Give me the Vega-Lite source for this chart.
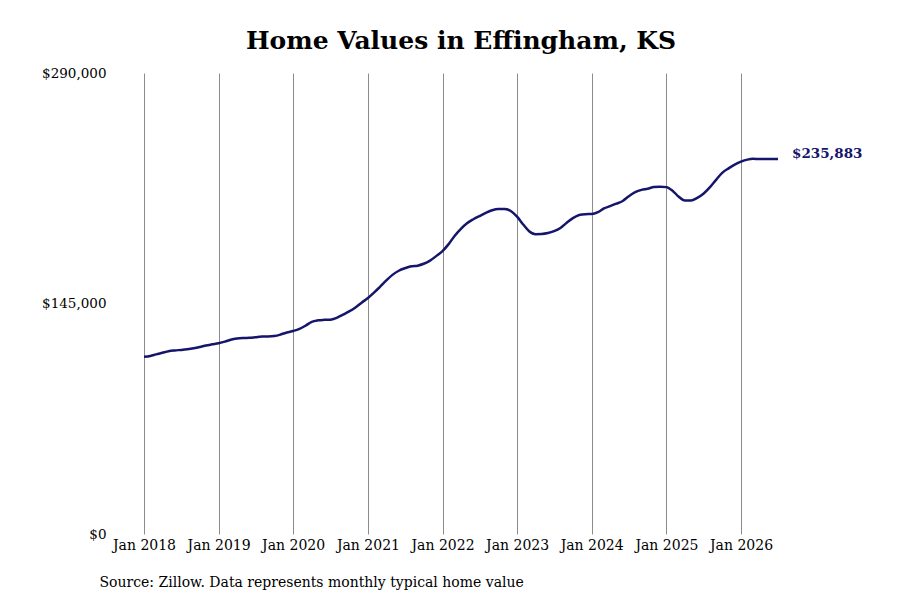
{
  "$schema": "https://vega.github.io/schema/vega-lite/v6.json",
  "width": 634,
  "height": 461,
  "autosize": "none",
  "padding": {"left": 144, "top": 73, "right": 122, "bottom": 66},
  "background": "white",
  "config": {
    "view": {"stroke": null},
    "font": "DejaVu Serif"
  },
  "title": {
    "text": "Home Values in Effingham, KS",
    "font": "DejaVu Serif",
    "fontSize": 25,
    "fontWeight": "bold",
    "color": "#000000",
    "anchor": "middle",
    "offset": 12
  },
  "data": {
    "values": [
      {"date": "2018-01-01", "value": 111500},
      {"date": "2018-02-01", "value": 112000},
      {"date": "2018-03-01", "value": 113000},
      {"date": "2018-04-01", "value": 114000},
      {"date": "2018-05-01", "value": 115000},
      {"date": "2018-06-01", "value": 115500},
      {"date": "2018-07-01", "value": 115800},
      {"date": "2018-08-01", "value": 116200},
      {"date": "2018-09-01", "value": 116800},
      {"date": "2018-10-01", "value": 117600},
      {"date": "2018-11-01", "value": 118600},
      {"date": "2018-12-01", "value": 119300},
      {"date": "2019-01-01", "value": 120000},
      {"date": "2019-02-01", "value": 121000},
      {"date": "2019-03-01", "value": 122200},
      {"date": "2019-04-01", "value": 123000},
      {"date": "2019-05-01", "value": 123300},
      {"date": "2019-06-01", "value": 123400},
      {"date": "2019-07-01", "value": 123800},
      {"date": "2019-08-01", "value": 124200},
      {"date": "2019-09-01", "value": 124200},
      {"date": "2019-10-01", "value": 124500},
      {"date": "2019-11-01", "value": 125500},
      {"date": "2019-12-01", "value": 126800},
      {"date": "2020-01-01", "value": 127700},
      {"date": "2020-02-01", "value": 129000},
      {"date": "2020-03-01", "value": 131000},
      {"date": "2020-04-01", "value": 133500},
      {"date": "2020-05-01", "value": 134400},
      {"date": "2020-06-01", "value": 134700},
      {"date": "2020-07-01", "value": 134800},
      {"date": "2020-08-01", "value": 136000},
      {"date": "2020-09-01", "value": 138000},
      {"date": "2020-10-01", "value": 140000},
      {"date": "2020-11-01", "value": 142500},
      {"date": "2020-12-01", "value": 145500},
      {"date": "2021-01-01", "value": 148500},
      {"date": "2021-02-01", "value": 152000},
      {"date": "2021-03-01", "value": 155500},
      {"date": "2021-04-01", "value": 159500},
      {"date": "2021-05-01", "value": 163000},
      {"date": "2021-06-01", "value": 165600},
      {"date": "2021-07-01", "value": 167200},
      {"date": "2021-08-01", "value": 168400},
      {"date": "2021-09-01", "value": 168800},
      {"date": "2021-10-01", "value": 170000},
      {"date": "2021-11-01", "value": 172000},
      {"date": "2021-12-01", "value": 174800},
      {"date": "2022-01-01", "value": 178000},
      {"date": "2022-02-01", "value": 182500},
      {"date": "2022-03-01", "value": 187500},
      {"date": "2022-04-01", "value": 192000},
      {"date": "2022-05-01", "value": 195500},
      {"date": "2022-06-01", "value": 198000},
      {"date": "2022-07-01", "value": 200000},
      {"date": "2022-08-01", "value": 202000},
      {"date": "2022-09-01", "value": 203700},
      {"date": "2022-10-01", "value": 204500},
      {"date": "2022-11-01", "value": 204500},
      {"date": "2022-12-01", "value": 203200},
      {"date": "2023-01-01", "value": 199600},
      {"date": "2023-02-01", "value": 194500},
      {"date": "2023-03-01", "value": 190500},
      {"date": "2023-04-01", "value": 188600},
      {"date": "2023-05-01", "value": 188700},
      {"date": "2023-06-01", "value": 189300},
      {"date": "2023-07-01", "value": 190500},
      {"date": "2023-08-01", "value": 192500},
      {"date": "2023-09-01", "value": 195800},
      {"date": "2023-10-01", "value": 198700},
      {"date": "2023-11-01", "value": 200700},
      {"date": "2023-12-01", "value": 201200},
      {"date": "2024-01-01", "value": 201300},
      {"date": "2024-02-01", "value": 202500},
      {"date": "2024-03-01", "value": 204800},
      {"date": "2024-04-01", "value": 206300},
      {"date": "2024-05-01", "value": 207800},
      {"date": "2024-06-01", "value": 209500},
      {"date": "2024-07-01", "value": 212500},
      {"date": "2024-08-01", "value": 215000},
      {"date": "2024-09-01", "value": 216500},
      {"date": "2024-10-01", "value": 217200},
      {"date": "2024-11-01", "value": 218300},
      {"date": "2024-12-01", "value": 218500},
      {"date": "2025-01-01", "value": 218200},
      {"date": "2025-02-01", "value": 215800},
      {"date": "2025-03-01", "value": 212300},
      {"date": "2025-04-01", "value": 209800},
      {"date": "2025-05-01", "value": 209800},
      {"date": "2025-06-01", "value": 211500},
      {"date": "2025-07-01", "value": 214000},
      {"date": "2025-08-01", "value": 218000},
      {"date": "2025-09-01", "value": 222800},
      {"date": "2025-10-01", "value": 227200},
      {"date": "2025-11-01", "value": 230000},
      {"date": "2025-12-01", "value": 232300},
      {"date": "2026-01-01", "value": 234200},
      {"date": "2026-02-01", "value": 235500},
      {"date": "2026-03-01", "value": 236000},
      {"date": "2026-04-01", "value": 235900},
      {"date": "2026-05-01", "value": 235900},
      {"date": "2026-06-01", "value": 235900},
      {"date": "2026-07-01", "value": 235883}
    ]
  },
  "encoding": {
    "x": {
      "field": "date",
      "type": "temporal",
      "scale": {
        "domain": [{"year": 2018, "month": 1, "date": 1}, {"year": 2026, "month": 7, "date": 1}],
        "nice": false
      },
      "axis": {
        "title": "Source: Zillow. Data represents monthly typical home value",
        "titleFont": "DejaVu Serif",
        "titleFontSize": 14,
        "titleFontWeight": "normal",
        "titleColor": "#000000",
        "titleAnchor": "start",
        "titleAlign": "left",
        "titleBaseline": "middle",
        "titleX": -45,
        "titleY": 48,
        "values": [
          {"year": 2018, "month": 1, "date": 1},
          {"year": 2019, "month": 1, "date": 1},
          {"year": 2020, "month": 1, "date": 1},
          {"year": 2021, "month": 1, "date": 1},
          {"year": 2022, "month": 1, "date": 1},
          {"year": 2023, "month": 1, "date": 1},
          {"year": 2024, "month": 1, "date": 1},
          {"year": 2025, "month": 1, "date": 1},
          {"year": 2026, "month": 1, "date": 1}
        ],
        "format": "%b %Y",
        "labelFont": "DejaVu Serif",
        "labelFontSize": 14,
        "labelColor": "#000000",
        "labelPadding": 4,
        "labelFlush": false,
        "labelOverlap": false,
        "domain": false,
        "ticks": false,
        "grid": true,
        "gridColor": "#8c8c8c",
        "gridWidth": 1
      }
    },
    "y": {
      "field": "value",
      "type": "quantitative",
      "scale": {"domain": [0, 290000], "nice": false, "zero": true},
      "axis": {
        "title": null,
        "values": [0, 145000, 290000],
        "format": "$,.0f",
        "labelFont": "DejaVu Serif",
        "labelFontSize": 13.5,
        "labelColor": "#000000",
        "labelPadding": 38,
        "labelFlush": false,
        "labelBaseline": "middle",
        "domain": false,
        "ticks": false,
        "grid": false
      }
    }
  },
  "layer": [
    {
      "mark": {
        "type": "line",
        "color": "#15156b",
        "strokeWidth": 2.5,
        "interpolate": "monotone"
      }
    },
    {
      "transform": [{"filter": {"field": "value", "equal": 235883}}],
      "mark": {
        "type": "text",
        "align": "left",
        "baseline": "middle",
        "dx": 14,
        "dy": -5,
        "font": "DejaVu Serif",
        "fontSize": 13.5,
        "fontWeight": "bold",
        "color": "#15156b"
      },
      "encoding": {
        "text": {"field": "value", "type": "quantitative", "format": "$,.0f"}
      }
    }
  ]
}
